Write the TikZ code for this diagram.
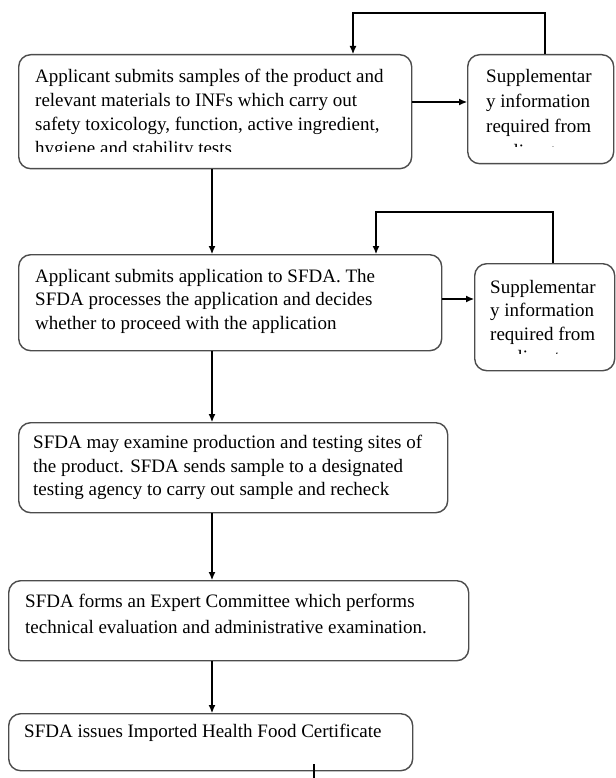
\documentclass[tikz,border=0pt]{standalone}
\usepackage{fontspec}
\setmainfont{Liberation Serif}
\usepackage{tikz}
\usetikzlibrary{positioning,arrows.meta}
\tikzstyle{box} = [draw=black!70, line width=1.4pt, rounded corners=12pt, anchor=north west, inner sep=0pt]
\tikzstyle{txt} = [anchor=north west, inner sep=0pt, align=left, font=\fontsize{19}{23.5}\selectfont]
\tikzstyle{arrow} = [line width=1.1pt, ->, >={Latex[length=8pt,width=7pt]}]
\tikzstyle{line} = [line width=1.1pt]

\begin{document}
\begin{tikzpicture}[x=1pt,y=-1pt]
		\useasboundingbox (0,0) rectangle (615,778);
		\coordinate (step1) at (18,54);
		\coordinate (supp1) at (467,54);
		\coordinate (step2) at (18,254);
		\coordinate (supp2) at (474,263);
		\coordinate (step3) at (18,422);
		\coordinate (step4) at (8,580);
		\coordinate (step5) at (8,713);
		\coordinate (spine) at (212,0);
		\coordinate (side1) at (0,102);
		\coordinate (side2) at (0,299);
		\coordinate (back1) at (545,13);
		\coordinate (top1) at (353,13);
		\coordinate (back2) at (553,212);
		\coordinate (top2) at (376,212);
		\coordinate (tail) at (314,778);
		% Boxes
		\node[box, minimum width=393pt, minimum height=114pt, name=box1] at (step1) {};
		\node[box, minimum width=146pt, minimum height=109pt, name=info1] at (supp1) {};
		\node[box, minimum width=423pt, minimum height=96pt, name=box2] at (step2) {};
		\node[box, minimum width=140pt, minimum height=107pt, name=info2] at (supp2) {};
		\node[box, minimum width=429pt, minimum height=90pt, name=box3] at (step3) {};
		\node[box, minimum width=460pt, minimum height=80pt, name=box4] at (step4) {};
		\node[box, minimum width=404pt, minimum height=57pt, name=box5] at (step5) {};
		% Texts (cut off at the bottom like the text frames)
		\begin{scope}
		\clip (0,0) rectangle (460,152);
		\node[txt, font=\fontsize{19}{24}\selectfont, name=text1] at (35,69) {Applicant submits samples of the product and\\ relevant materials to INFs which carry out\\ safety toxicology, function, active ingredient,\\ hygiene and stability tests};
		\end{scope}
		\begin{scope}
		\clip (460,0) rectangle (615,147);
		\node[txt, font=\fontsize{19}{25}\selectfont, name=textinfo1] at (486,69) {Supplementar\\ y information\\ required from\\ applicant};
		\end{scope}
		\node[txt, name=text2] at (35,269) {Applicant submits application to SFDA. The\\ SFDA processes the application and decides\\ whether to proceed with the application};
		\begin{scope}
		\clip (460,200) rectangle (615,353);
		\node[txt, name=textinfo2] at (490,280) {Supplementar\\ y information\\ required from\\ applicant};
		\end{scope}
		\begin{scope}
		\clip (0,400) rectangle (460,498);
		\node[txt, name=text3] at (33,435) {SFDA may examine production and testing sites of\\ the product. SFDA sends sample to a designated\\ testing agency to carry out sample and recheck};
		\end{scope}
		\node[txt, font=\fontsize{19}{26}\selectfont, name=text4] at (25,594) {SFDA forms an Expert Committee which performs\\ technical evaluation and administrative examination.};
		\node[txt, name=text5] at (24,724) {SFDA issues Imported Health Food Certificate};
		% Arrows
		\draw [arrow] (box1.south -| spine) -- (box2.north -| spine);
		\draw [arrow] (box2.south -| spine) -- (box3.north -| spine);
		\draw [arrow] (box3.south -| spine) -- (box4.north -| spine);
		\draw [arrow] (box4.south -| spine) -- (box5.north -| spine);
		\draw [arrow] (box1.east |- side1) -- (info1.west |- side1);
		\draw [arrow] (box2.east |- side2) -- (info2.west |- side2);
		% Loops back
		\draw [arrow] (info1.north -| back1) |- (top1) -- (box1.north -| top1);
		\draw [arrow] (info2.north -| back2) |- (top2) -- (box2.north -| top2);
		\draw [line] (box5.south -| tail) ++(0,-7) -- (tail);
\end{tikzpicture}
\end{document}
